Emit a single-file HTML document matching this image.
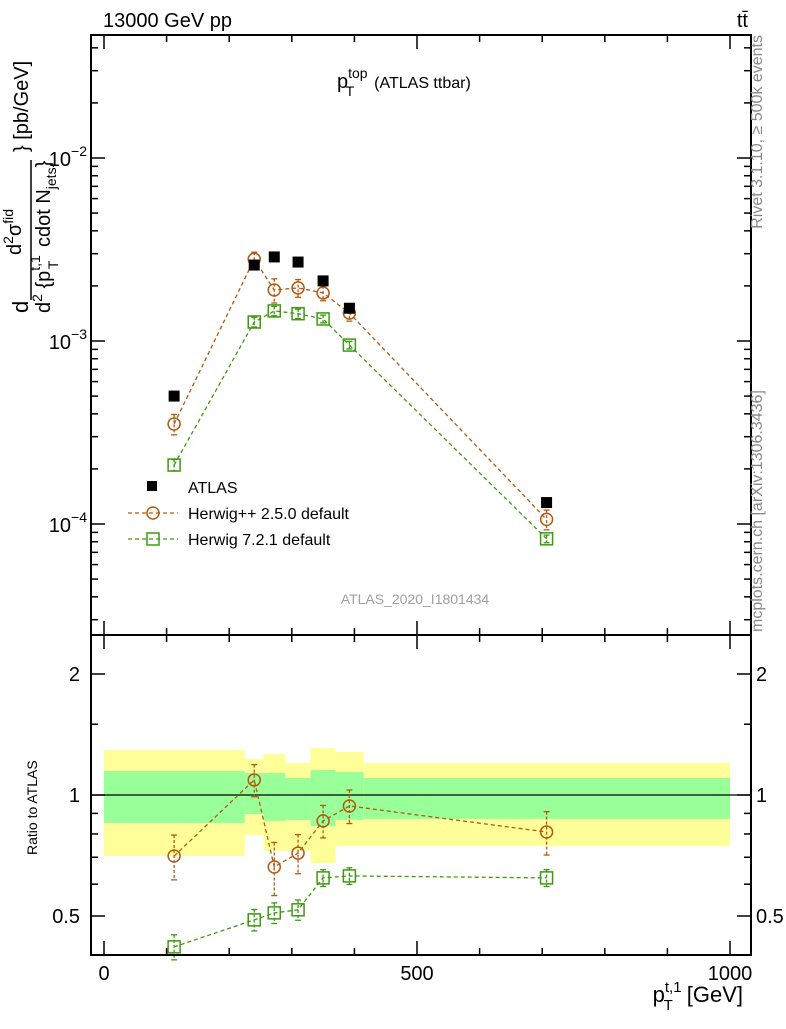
<!DOCTYPE html>
<html><head><meta charset="utf-8"><style>
body{margin:0;background:#fff}
svg{font-family:"Liberation Sans",sans-serif}
</style></head><body>
<svg id="c" width="786" height="1024" viewBox="0 0 786 1024" xmlns="http://www.w3.org/2000/svg">
<rect width="786" height="1024" fill="#fff"/>
<g id="bands"></g>
<g id="marks"></g>
<rect x="91" y="35" width="660" height="600" fill="none" stroke="#000" stroke-width="2"/>
<rect x="91" y="635" width="660" height="320" fill="none" stroke="#000" stroke-width="2"/>
<g id="ticks"></g>
<text x="103" y="27" font-size="20">13000 GeV pp</text>
<text x="748" y="27" font-size="20" text-anchor="end">tt̄</text>
<text x="337" y="88" font-size="20">p<tspan font-size="14" dy="-10">top</tspan><tspan font-size="14" dx="-22" dy="18">T</tspan><tspan font-size="16" dx="20" dy="-8">(ATLAS ttbar)</tspan></text>
<text x="415" y="604" font-size="14" fill="#a0a0a0" text-anchor="middle">ATLAS_2020_I1801434</text>
<text transform="translate(762,35) rotate(-90)" font-size="16" fill="#888" text-anchor="end">Rivet 3.1.10, ≥ 500k events</text>
<text transform="translate(762,632) rotate(-90)" font-size="16" fill="#888">mcplots.cern.ch [arXiv:1306.3436]</text>
<g font-size="22">
<text transform="translate(28,313) rotate(-90)">d</text>
<text transform="translate(21,255) rotate(-90)" font-size="20">d<tspan font-size="14" dy="-8">2</tspan><tspan dy="8">σ</tspan><tspan font-size="14" dy="-8">fid</tspan></text>
<line x1="31" y1="300" x2="31" y2="160" stroke="#000" stroke-width="1.5"/>
<text transform="translate(50,313) rotate(-90)" font-size="20">d<tspan font-size="14" dy="-8">2</tspan><tspan dy="8"> {p</tspan><tspan font-size="14" dy="-10">t,1</tspan><tspan font-size="14" dx="-14" dy="18">T</tspan><tspan dx="8" dy="-8"> cdot N</tspan><tspan font-size="14" dy="6">jets</tspan><tspan dy="-6">}</tspan></text>
<text transform="translate(28,152) rotate(-90)" font-size="20">} [pb/GeV]</text>
</g>
<text transform="translate(37,855) rotate(-90)" font-size="14">Ratio to ATLAS</text>
<text x="743" y="1002" font-size="22" text-anchor="end">p<tspan font-size="15" dy="-10">t,1</tspan><tspan font-size="15" dx="-18" dy="18">T</tspan><tspan dx="14" dy="-8">[GeV]</tspan></text>
<g font-size="16">
<rect x="147" y="481" width="10" height="10" fill="#000"/>
<text x="188" y="493">ATLAS</text>
<line x1="128" y1="513" x2="178" y2="513" stroke="#b35a10" stroke-dasharray="4,3" stroke-width="1.3"/>
<circle cx="153" cy="513" r="6" fill="none" stroke="#b35a10" stroke-width="1.5"/>
<text x="188" y="519">Herwig++ 2.5.0 default</text>
<line x1="128" y1="539" x2="178" y2="539" stroke="#3c9a0f" stroke-dasharray="4,3" stroke-width="1.3"/>
<rect x="147" y="533" width="12" height="12" fill="none" stroke="#3c9a0f" stroke-width="1.5"/>
<text x="188" y="545">Herwig 7.2.1 default</text>
</g>
</svg>
<script>
const binEdges=[0,225,255,290,330,370,415,1000];
const xCenters=[112,240,272,310,350,392,707];
const atlas=[5.0e-4,2.6e-3,2.88e-3,2.70e-3,2.13e-3,1.51e-3,1.31e-4];
const herwigpp=[3.52e-4,2.8e-3,1.9e-3,1.95e-3,1.83e-3,1.42e-3,1.06e-4];
const herwig7=[2.1e-4,1.27e-3,1.46e-3,1.41e-3,1.32e-3,0.95e-3,8.3e-5];
const ratioPP=[0.705,1.09,0.662,0.717,0.862,0.939,0.809];
const ratio7=[0.419,0.489,0.509,0.518,0.622,0.629,0.622];
const errPP=[0.09,0.1,0.1,0.08,0.08,0.09,0.1];
const err7=[0.03,0.03,0.03,0.03,0.03,0.03,0.03];
const yellowTop=[1.294,1.229,1.265,1.201,1.309,1.279,1.201];
const yellowBot=[0.705,0.795,0.726,0.726,0.677,0.747,0.747];
const greenTop=[1.147,1.134,1.134,1.102,1.154,1.141,1.102];
const greenBot=[0.852,0.897,0.862,0.867,0.837,0.867,0.872];
const xTicks=[0,500,1000];
const mainTicks=[-2,-3,-4];
const ratioTicks=[0.5,1,2];

const NS="http://www.w3.org/2000/svg";
const X=v=>104+v*0.626;
const Y=v=>158-(Math.log10(v)+2)*183;
const R=v=>795-Math.log2(v)*121;
function mk(t,a,p){const e=document.createElementNS(NS,t);for(const k in a)e.setAttribute(k,a[k]);p.appendChild(e);return e;}
const bands=document.getElementById('bands'),marks=document.getElementById('marks'),ticks=document.getElementById('ticks');
for(let i=0;i<xCenters.length;i++){
 const x0=X(binEdges[i]),x1=X(binEdges[i+1]);
 let r=mk('rect',{x:x0,y:R(yellowTop[i]),width:x1-x0,height:R(yellowBot[i])-R(yellowTop[i]),fill:'#ffff99'},bands);
 
 
 r=mk('rect',{x:x0,y:R(greenTop[i]),width:x1-x0,height:R(greenBot[i])-R(greenTop[i]),fill:'#99ff99'},bands);
 
 
}
mk('line',{x1:91,x2:751,y1:R(1),y2:R(1),stroke:'#000','stroke-width':1.2},bands);
function series(vals,yf,col,shape,errs,rel,name){
 const pts=vals.map((v,i)=>[X(xCenters[i]),yf(v)]);
 const pl=mk('polyline',{points:pts.map(p=>p.join(',')).join(' '),fill:'none',stroke:col,'stroke-dasharray':'4,3','stroke-width':1.3},marks);
 
 
 vals.forEach((v,i)=>{
  const x=pts[i][0],y=pts[i][1];
  const e=rel?v*errs[i]:errs[i];
  const ya=yf(v+e),yb=yf(Math.max(v-e,1e-9));
  mk('line',{x1:x,x2:x,y1:ya,y2:yb,stroke:col,'stroke-dasharray':'3,2','stroke-width':1.3},marks);
  mk('line',{x1:x-3,x2:x+3,y1:ya,y2:ya,stroke:col,'stroke-width':1.3},marks);
  mk('line',{x1:x-3,x2:x+3,y1:yb,y2:yb,stroke:col,'stroke-width':1.3},marks);
  let m=shape==='c'?mk('circle',{cx:x,cy:y,r:6,fill:'none',stroke:col,'stroke-width':1.5},marks)
        :mk('rect',{x:x-6,y:y-6,width:12,height:12,fill:'none',stroke:col,'stroke-width':1.5},marks);
  
  
 });
}
const relPP=errPP.map((e,i)=>e/ratioPP[i]),rel7=err7.map((e,i)=>e/ratio7[i]);
series(herwigpp,Y,'#b35a10','c',relPP,true,'herwigpp-main');
series(herwig7,Y,'#3c9a0f','s',rel7,true,'herwig7-main');
series(ratioPP,R,'#b35a10','c',errPP,false,'herwigpp-ratio');
series(ratio7,R,'#3c9a0f','s',err7,false,'herwig7-ratio');
atlas.forEach((v,i)=>{
 const m=mk('rect',{x:X(xCenters[i])-5.5,y:Y(v)-5.5,width:11,height:11,fill:'#000'},marks);
 
 
});
for(let v=0;v<=1000;v+=100){const x=X(v),L=v%500===0?14:7;
 [[955,955-L],[635,635-L],[635,635+L],[35,35+L]].forEach(a=>mk('line',{x1:x,x2:x,y1:a[0],y2:a[1],stroke:'#000','stroke-width':1.5},ticks));}
xTicks.forEach(v=>{const t=mk('text',{x:X(v),y:980,'font-size':20,'text-anchor':'middle'},ticks);t.textContent=v;
 });
for(let d=-5;d<=-1;d++)for(let m=1;m<10;m++){const v=m*Math.pow(10,d),y=Y(v);if(y<36||y>634)continue;const L=m===1?14:7;
 mk('line',{x1:91,x2:91+L,y1:y,y2:y,stroke:'#000','stroke-width':1.5},ticks);
 mk('line',{x1:751,x2:751-L,y1:y,y2:y,stroke:'#000','stroke-width':1.5},ticks);}
mainTicks.forEach(d=>{const t=mk('text',{x:87,y:Y(Math.pow(10,d))+8,'font-size':20,'text-anchor':'end'},ticks);
 t.innerHTML='10<tspan font-size="14" dy="-10">'+(d<0?'−'+(-d):d)+'</tspan>';
 });
[0.4,0.5,0.6,0.7,0.8,0.9,1,1.5,2].forEach(v=>{const y=R(v);if(y>954||y<636)return;const L=(v===0.5||v===1||v===2)?14:7;
 mk('line',{x1:91,x2:91+L,y1:y,y2:y,stroke:'#000','stroke-width':1.5},ticks);
 mk('line',{x1:751,x2:751-L,y1:y,y2:y,stroke:'#000','stroke-width':1.5},ticks);});
ratioTicks.forEach(v=>{[[80,'end'],[756,'start']].forEach(a=>{const t=mk('text',{x:a[0],y:R(v)+7,'font-size':20,'text-anchor':a[1]},ticks);t.textContent=v;
 });});
</script>
</body></html>
